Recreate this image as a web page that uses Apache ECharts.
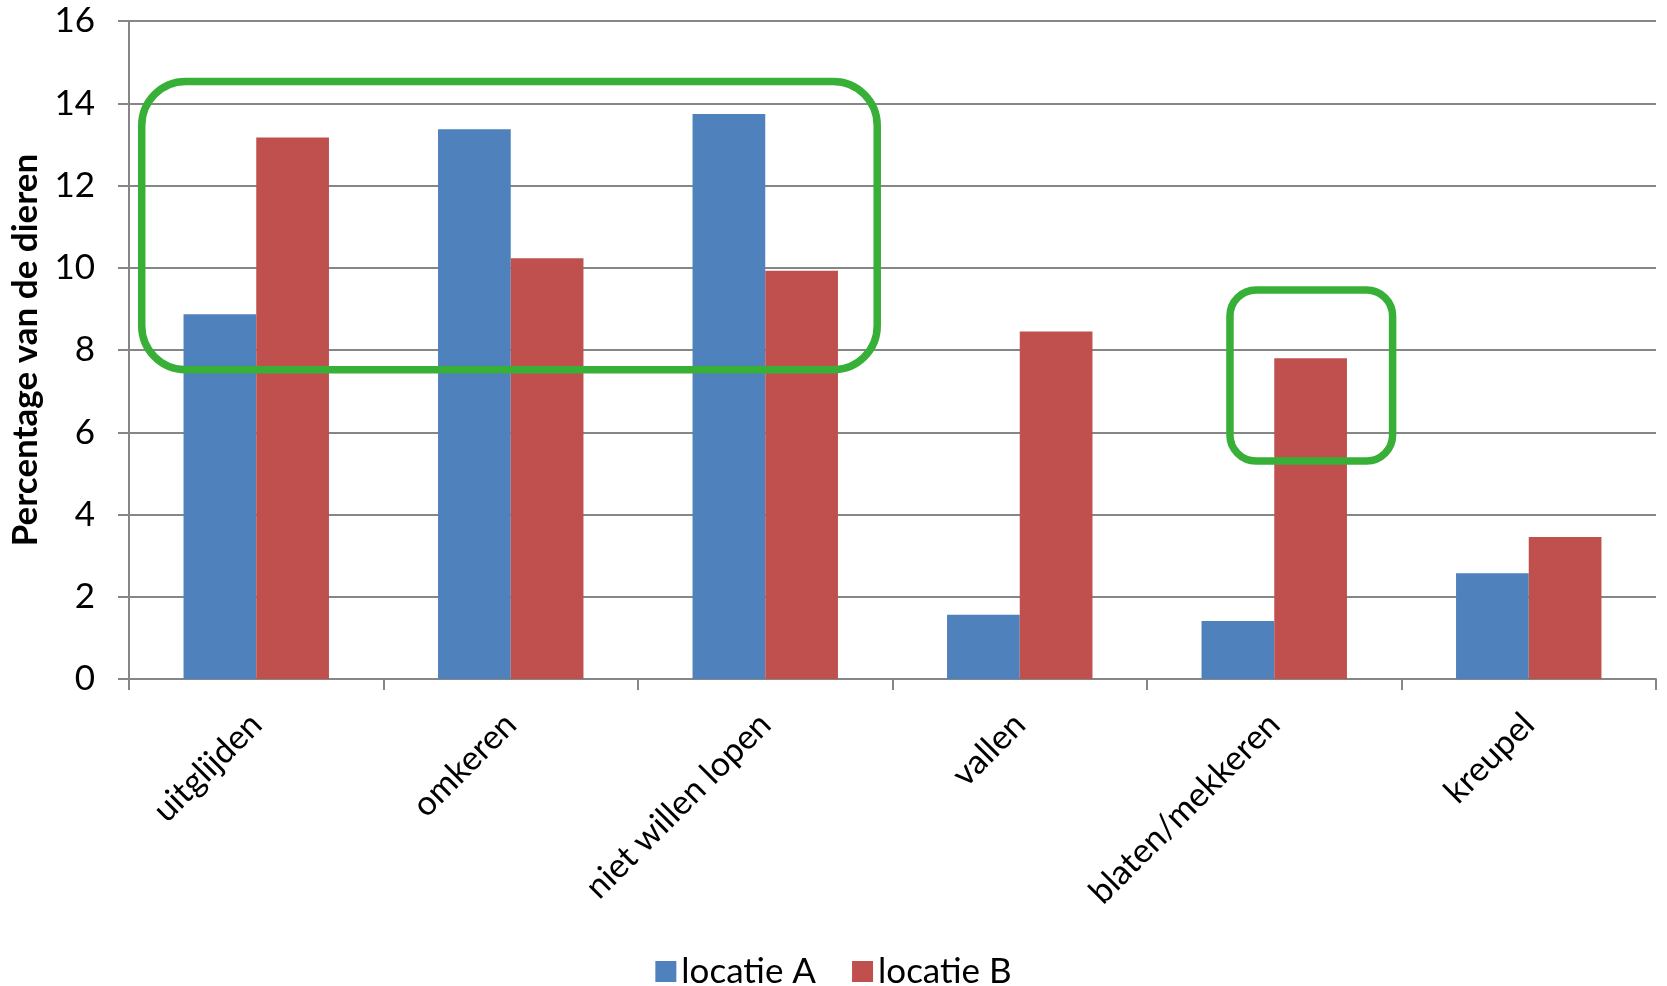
<!DOCTYPE html>
<html>
<head>
<meta charset="utf-8">
<script src="https://cdn.jsdelivr.net/npm/echarts@6/dist/echarts.min.js"></script>
<style>
html,body{margin:0;padding:0;background:#fff;}
#c{width:1667px;height:986px;}
</style>
</head>
<body>
<div id="c"></div>
<script>
var categories = ['uitglijden', 'omkeren', 'niet willen lopen', 'vallen', 'blaten/mekkeren', 'kreupel'];
var locatieA = [8.87, 13.37, 13.74, 1.56, 1.41, 2.57];
var locatieB = [13.17, 10.23, 9.93, 8.45, 7.80, 3.45];
var yTicks = [0, 2, 4, 6, 8, 10, 12, 14, 16];
// annotation boxes in (category units from left edge, y value)
var boxBig = {x0: 0.05, x1: 2.94, y0: 7.52, y1: 14.53};
var boxSmall = {x0: 4.326, x1: 4.965, y0: 5.30, y1: 9.46};

var FONT = 'Lato, "Open Sans", sans-serif';
var chart = echarts.init(document.getElementById('c'), null, {renderer: 'canvas'});
var option = {
  animation: false,
  grid: {left: 129, right: 11, top: 21, bottom: 307, containLabel: false},
  legend: {
    bottom: -8, left: 'center',
    itemWidth: 21, itemHeight: 21, itemGap: 36,
    icon: 'rect',
    textStyle: {fontFamily: FONT, fontSize: 35, color: '#000'},
    data: ['locatie A', 'locatie B']
  },
  xAxis: {
    type: 'category',
    data: categories,
    axisLine: {lineStyle: {color: '#868686', width: 2}},
    axisTick: {show: true, alignWithLabel: false, length: 11, lineStyle: {color: '#868686', width: 2}},
    axisLabel: {rotate: 45, fontFamily: FONT, fontSize: 34, color: '#000', margin: 40, interval: 0}
  },
  yAxis: {
    type: 'value',
    min: yTicks[0], max: yTicks[yTicks.length - 1], interval: 2,
    name: 'Percentage van de dieren',
    nameLocation: 'middle',
    nameGap: 82,
    nameRotate: 90,
    nameTextStyle: {fontFamily: FONT, fontSize: 35, fontWeight: 'bold', color: '#000'},
    axisLine: {show: true, lineStyle: {color: '#868686', width: 2}},
    axisTick: {show: true, length: 11, lineStyle: {color: '#868686', width: 2}},
    axisLabel: {fontFamily: FONT, fontSize: 35, color: '#000', margin: 34},
    splitLine: {lineStyle: {color: '#868686', width: 2}}
  },
  series: [
    {name: 'locatie A', type: 'bar', data: locatieA, barGap: '0%', barCategoryGap: '42.86%',
     itemStyle: {color: '#4F81BD'}},
    {name: 'locatie B', type: 'bar', data: locatieB, barGap: '0%', barCategoryGap: '42.86%',
     itemStyle: {color: '#C0504D'}}
  ]
};
chart.setOption(option);

function px(u, v) {
  var c0 = chart.convertToPixel({gridIndex: 0}, [0, v]);
  var c1 = chart.convertToPixel({gridIndex: 0}, [1, v]);
  var w = c1[0] - c0[0];
  return [c0[0] + (u - 0.5) * w, c0[1]];
}
function boxShape(b, r) {
  var p0 = px(b.x0, b.y1), p1 = px(b.x1, b.y0);
  return {
    type: 'rect',
    shape: {x: p0[0], y: p0[1], width: p1[0] - p0[0], height: p1[1] - p0[1], r: r},
    style: {fill: 'none', stroke: '#38B038', lineWidth: 7.5},
    z: 100
  };
}
chart.setOption({graphic: [boxShape(boxBig, 44), boxShape(boxSmall, 26)]});
</script>
</body>
</html>
